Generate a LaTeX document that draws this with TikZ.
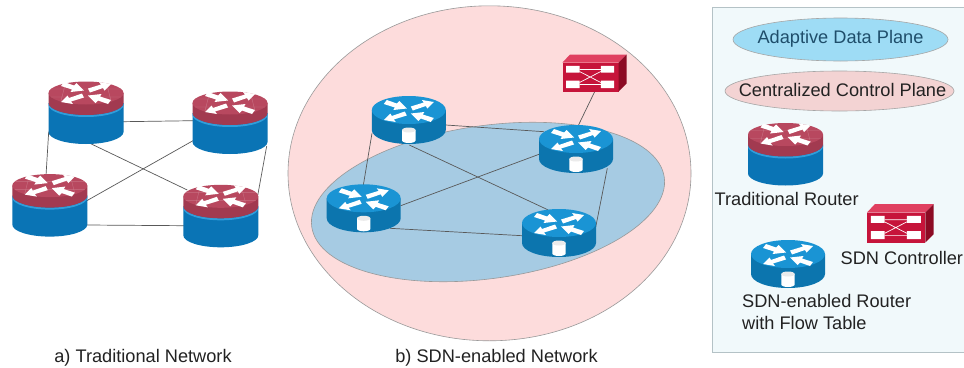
\documentclass[tikz,border=0pt]{standalone}
\usepackage{fontspec}
\usetikzlibrary{shapes.geometric}
\setmainfont{Liberation Sans}
\definecolor{bgpink}{HTML}{FDDCDC}
\definecolor{planeblue}{HTML}{A6CBE3}
\definecolor{legendbg}{HTML}{F1F9FB}
\definecolor{legendline}{HTML}{B4C2C6}
\definecolor{dataplane}{HTML}{9EDCF5}
\definecolor{ctrlplane}{HTML}{F3D3D3}
\definecolor{redtop}{HTML}{B8485F}
\definecolor{redside}{HTML}{A23A50}
\definecolor{blueside}{HTML}{0A74B5}
\definecolor{bluerim}{HTML}{2F9EDB}
\definecolor{sdntop}{HTML}{1A94D4}
\definecolor{sdnside}{HTML}{0C75AE}
\definecolor{ctlfront}{HTML}{C6143A}
\definecolor{ctltop}{HTML}{E04060}
\definecolor{ctlside}{HTML}{8C0B24}
\definecolor{datatext}{HTML}{1F4E6B}
\definecolor{bodytext}{HTML}{222222}
\newcommand{\crossarrows}{%
  \foreach \rot in {0,180}{%
    \begin{scope}[rotate=\rot]
      \fill[white] (25,-9)--(13,-11)--(15,-8.5)--(2,-4.5)--(4,-0.5)--(17,-5)--(18.5,-2.5)--cycle;
      \fill[white] (-22,-11)--(-12,-7.5)--(-9.5,-10)--(-2,-2.5)--(-15.5,-1)--(-14,-3.5)--(-25,-7)--cycle;
    \end{scope}
  }%
}
\tikzset{
  x=1pt,y=-1pt,
  devnode/.style={inner sep=0pt,minimum size=0pt,outer sep=0pt},
  link/.style={draw=black!65,line width=.7pt},
  lbl/.style={font=\fontsize{18.2}{22}\selectfont,inner sep=0pt,text=bodytext},
  tradrouter/.pic={
    \fill[blueside] (-37.5,10) -- (-37.5,39) arc[start angle=180,end angle=360,x radius=37.5pt,y radius=12pt] -- (37.5,10) -- cycle;
    \fill[bluerim] (-37.5,10) arc[start angle=180,end angle=360,x radius=37.5pt,y radius=12pt] -- (37.5,12) arc[start angle=360,end angle=180,x radius=37.5pt,y radius=12pt] -- cycle;
    \fill[redside] (-37.5,0) -- (-37.5,10) arc[start angle=180,end angle=360,x radius=37.5pt,y radius=12pt] -- (37.5,0) -- cycle;
    \fill[redtop] (0,0) ellipse[x radius=37.5pt,y radius=11.5pt];
    \begin{scope}
      \clip (0,0) ellipse[x radius=37.5pt,y radius=11.5pt];
      \draw[white,opacity=.22,line width=.4pt] (-38,-4)--(38,-4) (-38,4)--(38,4) (-20,-12)--(-26,12) (20,-12)--(26,12);
    \end{scope}
    \crossarrows
  },
  sdnrouter/.pic={
    \fill[sdnside] (-37,-1) -- (-37,19) arc[start angle=180,end angle=360,x radius=37pt,y radius=14pt] -- (37,-1) -- cycle;
    \fill[sdntop] (0,-1) ellipse[x radius=37pt,y radius=14pt];
    \crossarrows
    \fill[white] (-6.7,19) -- (-6.7,29.5) arc[start angle=180,end angle=360,x radius=6.7pt,y radius=2.5pt] -- (6.7,19) -- cycle;
    \fill[black!8] (0,19) ellipse[x radius=6.7pt,y radius=2.5pt];
  },
  sdnctl/.pic={
    \fill[ctlfront] (0,0) rectangle (56,29);
    \fill[ctltop] (0,0) -- (7.5,-8) -- (64,-8) -- (56,0) -- cycle;
    \fill[ctlside] (56,0) -- (64,-8) -- (64,21) -- (56,29) -- cycle;
    \fill[white] (3.7,3.3) rectangle (17,10) (38.3,3.3) rectangle (51.7,10) (3.7,18) rectangle (17,25.7) (38.3,18) rectangle (51.7,25.7);
    \draw[white,line width=.7pt] (17,7)--(38.3,7) (17,22)--(38.3,22) (17,9)--(38.3,20) (17,20)--(38.3,9);
  }
}
\begin{document}
\begin{tikzpicture}
\useasboundingbox (0,0) rectangle (964,367);
\fill[white] (0,0) rectangle (964,367);
% regions
\path[fill=bgpink,draw=black!40,line width=.6pt] (489.5,173.3) ellipse[x radius=201.5pt,y radius=167.5pt];
\path[fill=planeblue,draw=black!40,line width=.6pt,rotate around={8:(488,202)}] (488,202) ellipse[x radius=178pt,y radius=76.5pt];
% legend
\path[fill=legendbg,draw=legendline,line width=1pt] (712,7) rectangle (966,352);
\path[fill=dataplane,draw=black!35,line width=.6pt] (840.5,39.5) ellipse[x radius=107.5pt,y radius=21.5pt];
\path[fill=ctrlplane,draw=black!35,line width=.6pt] (839.5,91) ellipse[x radius=114.5pt,y radius=20pt];
\node[lbl,text=datatext] (keydata) at (840.5,39) {Adaptive Data Plane};
\node[lbl] (keyctrl) at (842.5,90) {Centralized Control Plane};
% device anchors
\node[devnode] (t1) at (86,93) {};
\node[devnode] (t2) at (230,103) {};
\node[devnode] (t3) at (49.8,185.6) {};
\node[devnode] (t4) at (220.8,196.3) {};
\node[devnode] (s1) at (408.8,111) {};
\node[devnode] (s2) at (576,140) {};
\node[devnode] (s3) at (363.7,199.3) {};
\node[devnode] (s4) at (559,224) {};
\node[devnode] (c1) at (562.5,62.5) {};
% connectors
\draw[link] ([shift={(37,28.7)}]t1.center) -- ([shift={(-37,17.7)}]t2.center);
\draw[link] ([shift={(-37.3,38.7)}]t1.center) -- ([shift={(-3.8,-10)}]t3.center);
\draw[link] ([shift={(3.3,50)}]t1.center) -- ([shift={(-33.5,-6.3)}]t4.center);
\draw[link] ([shift={(37,15.1)}]t3.center) -- ([shift={(-37,37.7)}]t2.center);
\draw[link] ([shift={(37,39.4)}]t3.center) -- ([shift={(-37,29.4)}]t4.center);
\draw[link] ([shift={(36.7,43)}]t2.center) -- ([shift={(37,-1.3)}]t4.center);
\draw[link] ([shift={(37,14)}]s1.center) -- ([shift={(-32,-8.3)}]s2.center);
\draw[link] ([shift={(-36.8,22.3)}]s1.center) -- ([shift={(-0.4,-14)}]s3.center);
\draw[link] ([shift={(0.5,34)}]s1.center) -- ([shift={(-10.7,-14)}]s4.center);
\draw[link] ([shift={(37,6.4)}]s3.center) -- ([shift={(-37,14.3)}]s2.center);
\draw[link] ([shift={(26.3,29)}]s3.center) -- ([shift={(-37,11.7)}]s4.center);
\draw[link] ([shift={(31.3,28.3)}]s2.center) -- ([shift={(36.8,2.7)}]s4.center);
\draw[link] ([shift={(32.5,28.5)}]c1.center) -- ([shift={(2.3,-14.5)}]s2.center);
% devices
\pic at (t1.center) {tradrouter};
\pic at (t2.center) {tradrouter};
\pic at (t3.center) {tradrouter};
\pic at (t4.center) {tradrouter};
\pic at (s1.center) {sdnrouter};
\pic at (s2.center) {sdnrouter};
\pic at (s3.center) {sdnrouter};
\pic at (s4.center) {sdnrouter};
\pic at (c1.center) {sdnctl};
\pic at (785.5,134.5) {tradrouter};
\pic at (788,255) {sdnrouter};
\pic[scale=1.04] at (867,212.5) {sdnctl};
% labels
\node[lbl,anchor=base] (la) at (143,362) {a) Traditional Network};
\node[lbl,anchor=base] (lb) at (496.5,362) {b) SDN-enabled Network};
\node[lbl,anchor=base west] (l1) at (714.5,205) {Traditional Router};
\node[lbl,anchor=base west] (l2) at (840.5,264) {SDN Controller};
\node[lbl,anchor=base west,align=left] (l3) at (742,329) {SDN-enabled Router\\with Flow Table};
\end{tikzpicture}
\end{document}
